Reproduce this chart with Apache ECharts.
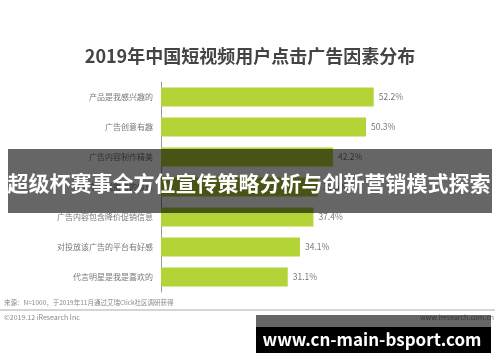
<!DOCTYPE html>
<html><head><meta charset="utf-8">
<script src="https://cdn.jsdelivr.net/npm/echarts@6/dist/echarts.min.js"></script>
<style>html,body{margin:0;padding:0;background:#fff}#c{width:500px;height:362px}</style>
</head><body><div id="c"></div>
<script>
const titleText = '2019年中国短视频用户点击广告因素分布';
const categories = ['产品是我感兴趣的','广告创意有趣','广告内容制作精美','广告中有我需要的信息','广告内容包含降价促销信息','对投放该广告的平台有好感','代言明星是我是喜欢的'];
const values = [52.2, 50.3, 42.2, 38.5, 37.4, 34.1, 31.1];
const sourceText = '来源：N=1000，于2019年11月通过艾瑞Click社区调研获得';
const copyrightText = '©2019.12 iResearch Inc';
const siteText = 'www.iresearch.com.cn';
const bannerText = '超级杯赛事全方位宣传策略分析与创新营销模式探索';
const watermarkText = 'www.cn-main-bsport.com';

const FONT = '"Noto Sans CJK SC", "Noto Sans", sans-serif';
const chart = echarts.init(document.getElementById('c'), null, {renderer:'canvas'});
chart.setOption({
  animation:false,
  backgroundColor:'#fff',
  title:{text:titleText,left:'center',top:42,textStyle:{fontFamily:FONT,fontSize:18,fontWeight:'bold',color:'#444'}},
  grid:{left:161,top:82,height:210,right:13},
  xAxis:{type:'value',min:0,max:80,show:false},
  yAxis:{type:'category',data:categories,inverse:true,
    axisLine:{show:true,lineStyle:{color:'#999',width:1}},axisTick:{show:false},
    axisLabel:{fontFamily:FONT,fontSize:8,color:'#777',margin:8}},
  series:[{type:'bar',data:values,barWidth:19,itemStyle:{color:'#b3d336'},
    label:{show:true,position:'right',distance:5,formatter:p=>p.value.toFixed(1)+'%',fontFamily:FONT,fontSize:8.5,color:'#777'}}],
  graphic:[
    {type:'text',left:4,top:299,style:{text:sourceText,font:'6.5px '+FONT,fill:'#888'}},
    {type:'line',shape:{x1:0,y1:310,x2:495,y2:310},style:{stroke:'#aaa',lineWidth:1}},
    {type:'text',left:4,top:314,style:{text:copyrightText,font:'7px '+FONT,fill:'#888'}},
    {type:'text',right:6,top:314,style:{text:siteText,font:'7px '+FONT,fill:'#888'}},
    {type:'rect',z:100,shape:{x:8,y:149,width:484,height:64},style:{fill:'rgba(0,0,0,0.6)'}},
    {type:'text',z:101,x:249,y:183,style:{text:bannerText,font:'bold 21px '+FONT,fill:'#fff',align:'center',verticalAlign:'middle'}},
    {type:'rect',z:100,shape:{x:256,y:315,width:235,height:38},style:{fill:'rgba(0,0,0,0.6)'}},
    {type:'rect',z:100,shape:{x:256,y:327,width:235,height:26},style:{fill:'#000'}},
    {type:'text',z:101,x:372,y:340,style:{text:watermarkText,font:'bold 17px '+FONT,fill:'#fff',align:'center',verticalAlign:'middle'}}
  ]
});
</script></body></html>
